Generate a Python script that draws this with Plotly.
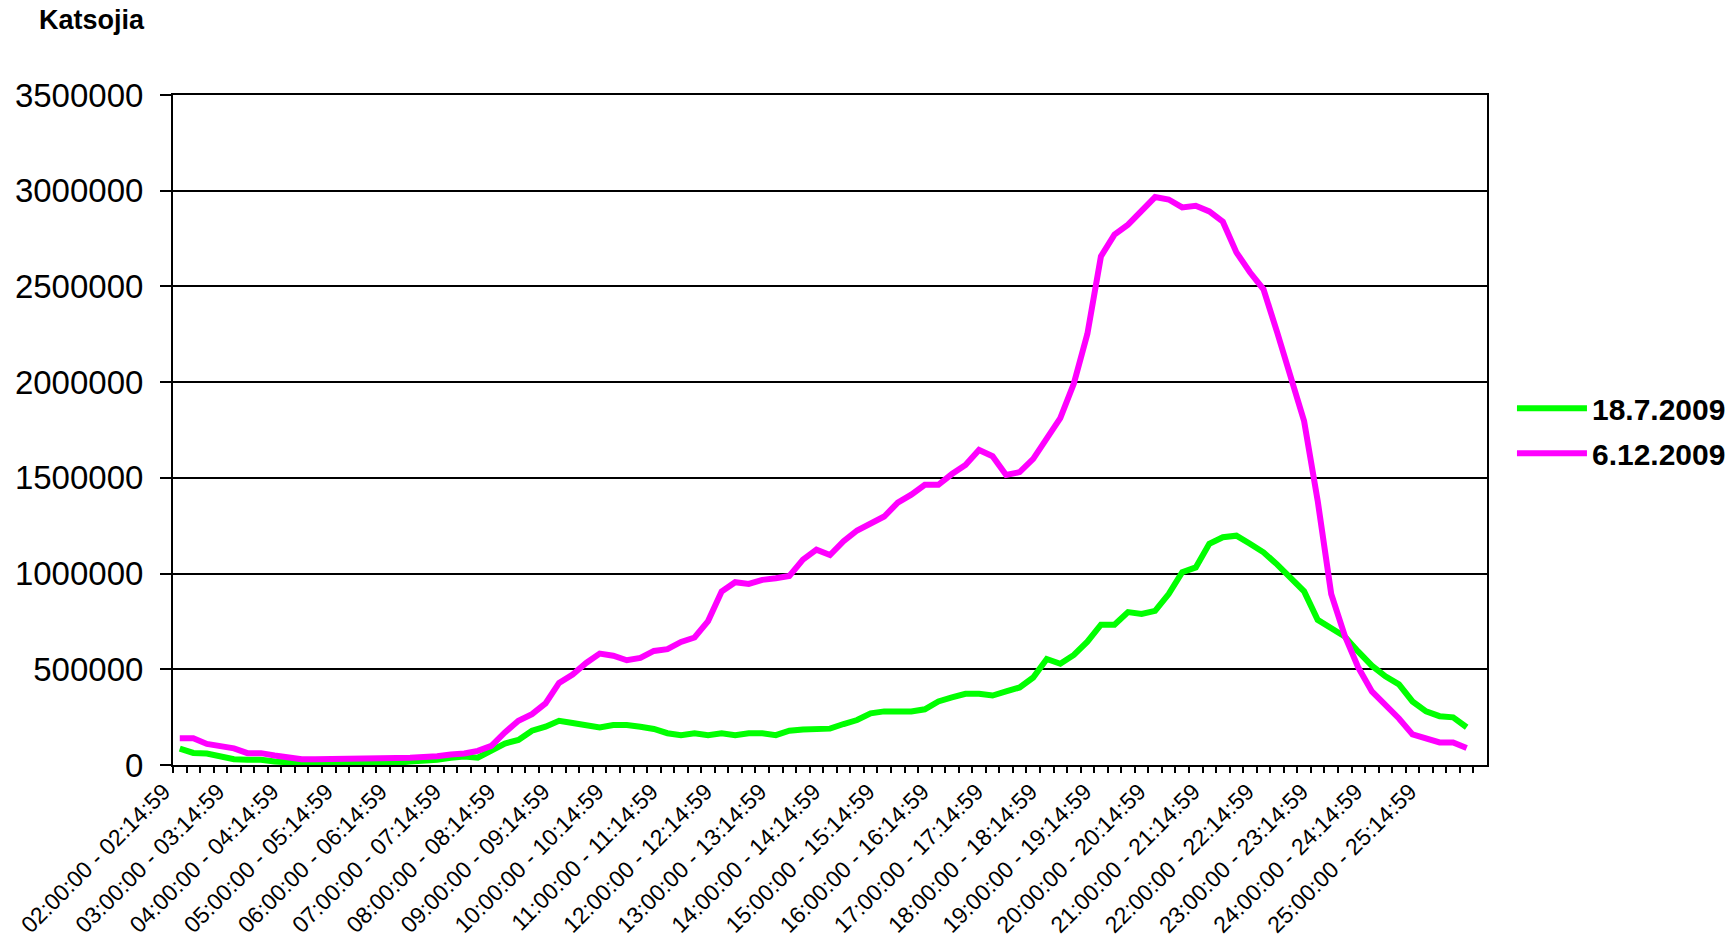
import plotly.graph_objects as go

# Category labels: quarter-hour slots of the TV day 02:00 - 25:59
categories = [f"{h:02d}:{m:02d}:00 - {h:02d}:{m + 14:02d}:59"
              for h in range(2, 26) for m in (0, 15, 30, 45)]

# Viewers (Katsojia) per quarter hour
viewers_18_7_2009 = [
    86000, 63000, 60000, 48000, 30000, 27000, 27000, 18000, 12000, 9000,
    7000, 7000, 7000, 7000, 9000, 14000, 11000, 18000, 19000, 27000,
    38000, 45000, 38000, 72000, 112000, 131000, 179000, 200000, 231000, 219000,
    210000, 196000, 209000, 209000, 200000, 188000, 166000, 156000, 166000, 156000,
    166000, 156000, 166000, 166000, 156000, 179000, 186000, 186000, 190000, 214000,
    235000, 270000, 280000, 280000, 280000, 291000, 332000, 353000, 372000, 372000,
    363000, 384000, 405000, 457000, 554000, 529000, 575000, 644000, 733000, 733000,
    799000, 789000, 805000, 893000, 1007000, 1032000, 1156000, 1190000, 1198000, 1156000,
    1111000, 1048000, 982000, 907000, 758000, 716000, 671000, 592000, 519000, 463000,
    421000, 332000, 280000, 255000, 249000, 197000,
]

viewers_6_12_2009 = [
    140000, 140000, 110000, 97000, 87000, 62000, 62000, 50000, 41000, 30000,
    30000, 30000, 30000, 30000, 30000, 36000, 36000, 38000, 40000, 46000,
    55000, 60000, 74000, 100000, 170000, 231000, 266000, 322000, 429000, 473000,
    533000, 582000, 571000, 547000, 559000, 596000, 605000, 643000, 666000, 752000,
    906000, 955000, 946000, 967000, 976000, 988000, 1073000, 1125000, 1097000, 1169000,
    1225000, 1262000, 1298000, 1370000, 1412000, 1464000, 1464000, 1520000, 1567000, 1646000,
    1613000, 1515000, 1530000, 1599000, 1702000, 1812000, 1993000, 2252000, 2657000, 2771000,
    2823000, 2892000, 2967000, 2954000, 2913000, 2921000, 2892000, 2838000, 2678000, 2574000,
    2485000, 2263000, 2024000, 1796000, 1381000, 893000, 675000, 509000, 384000, 316000,
    243000, 160000, 139000, 118000, 118000, 89000,
]

series_names = ["18.7.2009", "6.12.2009"]
y_tickvals = [0, 500000, 1000000, 1500000, 2000000, 2500000, 3000000, 3500000]
x_ticktext = [c if i % 4 == 0 else "" for i, c in enumerate(categories)]

FONT = "Arial, 'Liberation Sans', sans-serif"
W, H = 1736, 939

fig = go.Figure()
fig.add_trace(go.Scatter(x=categories, y=viewers_18_7_2009, mode="lines",
                         name=f"<b>{series_names[0]}</b>", legendgroup="a",
                         line=dict(color="#00FF00", width=6)))
fig.add_trace(go.Scatter(x=categories, y=viewers_6_12_2009, mode="lines",
                         name=f"<b>{series_names[1]}</b>", legendgroup="b",
                         line=dict(color="#FF00FF", width=6)))

fig.update_layout(
    width=W, height=H,
    paper_bgcolor="white", plot_bgcolor="white",
    margin=dict(l=173, r=249, t=95, b=174, autoexpand=False),
    font=dict(family=FONT, color="black"),
    title=dict(text="<b>Katsojia</b>", xref="container", yref="container",
               x=39 / W, xanchor="left", y=1 - 20 / H, yanchor="middle",
               font=dict(size=27, family=FONT, color="black")),
    legend=dict(x=1.019, xanchor="left", y=0.499, yanchor="middle",
                font=dict(size=30, family=FONT, color="black"),
                itemwidth=70, bgcolor="rgba(0,0,0,0)", borderwidth=0,
                tracegroupgap=3),
    showlegend=True,
)

fig.update_xaxes(
    type="category",
    categoryorder="array", categoryarray=categories,
    range=[-0.5, len(categories) + 0.5],
    tickmode="array", tickvals=categories, ticktext=x_ticktext,
    tickangle=-45, tickfont=dict(size=23, family=FONT, color="black"),
    ticklabelshift=-16, ticklabelstandoff=2,
    ticks="outside", ticklen=6, tickwidth=2, tickcolor="black",
    tickson="boundaries",
    showline=True, linecolor="black", linewidth=2, mirror=True,
    showgrid=False, zeroline=False, automargin=False,
)

fig.update_yaxes(
    range=[0, 3500000],
    tickmode="array", tickvals=y_tickvals,
    ticktext=[str(v) for v in y_tickvals],
    tickfont=dict(size=33, family=FONT, color="black"),
    ticks="outside", ticklen=11, tickwidth=2, tickcolor="black",
    ticklabelstandoff=10,
    showline=True, linecolor="black", linewidth=2, mirror=True,
    showgrid=True, gridcolor="black", gridwidth=2,
    zeroline=False, automargin=False,
)

# remove the browser's default 8px page margin so the figure fills the window
fig.write_html("out.html",
               config={"displayModeBar": False},
               post_script="document.body.style.margin='0px';")
